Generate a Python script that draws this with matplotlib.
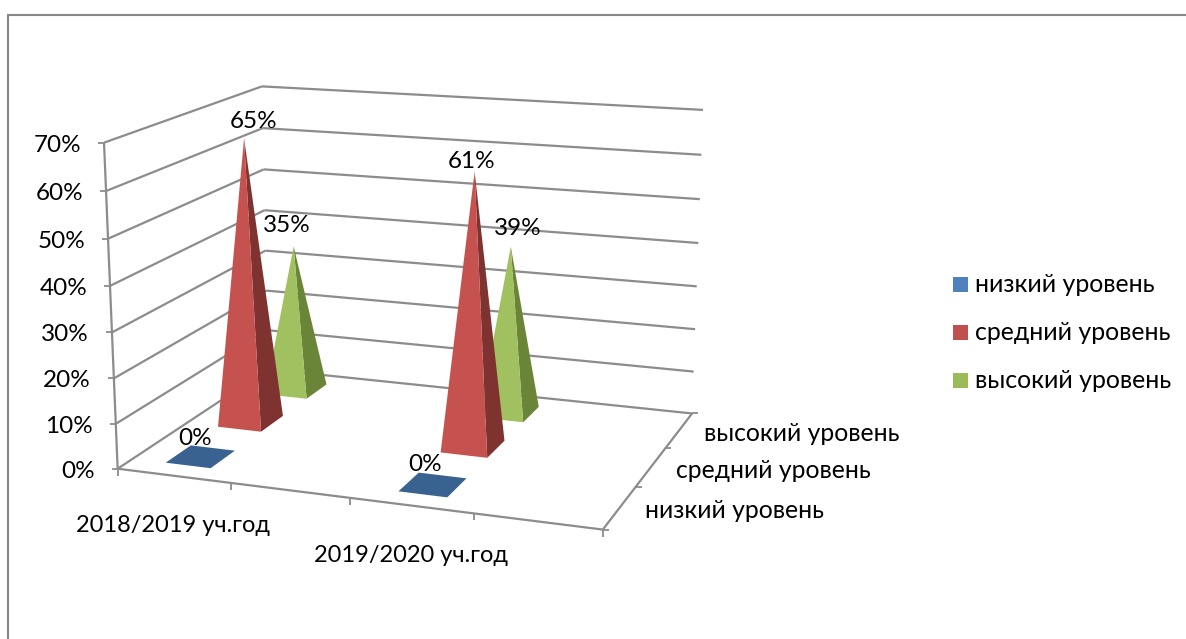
import numpy as np
import matplotlib
matplotlib.use('Agg')
import matplotlib.pyplot as plt
from matplotlib.patches import Polygon, Rectangle

plt.rcParams['font.family'] = ['Lato', 'Noto Sans', 'DejaVu Sans']

# Data
years = ['2018/2019 уч.год', '2019/2020 уч.год']
levels = ['низкий уровень', 'средний уровень', 'высокий уровень']
low = [0, 0]
mid = [65, 61]
high = [35, 39]
y_ticks = [0, 10, 20, 30, 40, 50, 60, 70]

# Where the bars sit on the floor (0..1 along the front, 0..1 in depth)
year_pos = [0.124, 0.625]
level_pos = [1 / 6, 1 / 2, 5 / 6]
half_u = 0.05
half_v = 0.078

GRID = '#8c8c8c'
FRONT = ['#4F81BD', '#C6524F', '#A1C05F']
SIDE = ['#3A6291', '#7F3330', '#6B8538']
LEGEND = ['#4F81BD', '#C0504D', '#9BBB59']
FS = 17.5

# Camera: fit a projective matrix from the box corners seen in the picture
box = [
    ((0, 0, 0), (117.5, 468)),
    ((1, 0, 0), (603, 530)),
    ((1, 1, 0), (692, 413)),
    ((0, 1, 0), (268, 370)),
    ((0, 0, 70), (104, 143)),
    ((0, 1, 70), (262, 86)),
    ((1, 1, 70), (703, 110)),
]
A = []
b = []
for (u, v, z), (px, py) in box:
    z = z / 70
    A.append([u, v, z, 1, 0, 0, 0, 0, -px * u, -px * v, -px * z])
    b.append(px)
    A.append([0, 0, 0, 0, u, v, z, 1, -py * u, -py * v, -py * z])
    b.append(py)
m = np.linalg.lstsq(np.array(A), np.array(b), rcond=None)[0]
P = np.append(m, 1).reshape(3, 4)


def project(u, v, z):
    p = P @ np.array([u, v, z / 70, 1])
    return p[0] / p[2], p[1] / p[2]


fig = plt.figure(figsize=(11.86, 6.39), dpi=100)
ax = fig.add_axes([0, 0, 1, 1])
ax.set_xlim(0, 1186)
ax.set_ylim(639, 0)
ax.axis('off')

# outer chart frame (bottom and right are cut off in the picture)
ax.plot([8, 8, 1186], [639, 15, 15], color='#878787', lw=1.5, solid_joinstyle='miter')


def line(p0, p1, lw=1.6):
    ax.plot([p0[0], p1[0]], [p0[1], p1[1]], color=GRID, lw=lw, zorder=1,
            solid_capstyle='butt')


# walls
for t in y_ticks:
    line(project(0, 0, t), project(0, 1, t))
    line(project(0, 1, t), project(1, 1, t))
    x, y = project(0, 0, t)
    line((x - 6, y), (x, y), lw=1.3)
    ax.text(x - 23, y + 2.5, f'{t}%', ha='right', va='center', fontsize=FS, color='black')
line(project(0, 0, 0), project(0, 0, 70))

# floor
line(project(0, 0, 0), project(1, 0, 0))
line(project(1, 0, 0), project(1, 1, 0))
for u in [0, 0.25, 0.5, 0.75, 1]:
    x, y = project(u, 0, 0)
    line((x, y), (x, y + 7), lw=1.3)
for v in [0, 1 / 3, 2 / 3, 1]:
    x, y = project(1, v, 0)
    line((x, y), (x + 6, y), lw=1.3)


def pyramid(u, v, value, i):
    u0, u1 = u - half_u, u + half_u
    v0, v1 = v - half_v, v + half_v
    if value == 0:
        # zero height: only the flat base shows
        corners = [project(u0, v0, 0), project(u1, v0, 0), project(u1, v1, 0), project(u0, v1, 0)]
        ax.add_patch(Polygon(corners, closed=True, fc=SIDE[i], ec='none', zorder=3))
        return
    apex = project(u, v, value)
    front = [project(u0, v0, 0), project(u1, v0, 0), apex]
    side = [project(u1, v0, 0), project(u1, v1, 0), apex]
    ax.add_patch(Polygon(side, closed=True, fc=SIDE[i], ec='none', zorder=3))
    ax.add_patch(Polygon(front, closed=True, fc=FRONT[i], ec='none', zorder=3))


series = [low, mid, high]
for i in [2, 1, 0]:
    for j in range(len(years)):
        pyramid(year_pos[j], level_pos[i], series[i][j], i)

# value labels, nudged by hand like the source chart
offsets = {(0, 0): (-5, -18), (0, 1): (-8, -20),
           (1, 0): (10, -17), (1, 1): (-3, -10),
           (2, 0): (-7, -21), (2, 1): (7, -18)}
for i in range(3):
    for j in range(2):
        x, y = project(year_pos[j], level_pos[i], series[i][j])
        dx, dy = offsets[(i, j)]
        ax.text(x + dx, y + dy, f'{series[i][j]}%', ha='center', va='center',
                fontsize=FS, color='black', zorder=5)

# category labels below the front edge
for j, name in enumerate(years):
    x, y = project(year_pos[j], 0, 0)
    ax.text(x, y + 50, name, ha='center', va='center', fontsize=17, color='black')

# depth labels
for i, name in enumerate(levels):
    x, y = project(1, level_pos[i], 0)
    ax.text(x + 25, y + 3.5, name, ha='left', va='center', fontsize=17.8, color='black')

# legend
for i, name in enumerate(levels):
    y = 284.5 + i * 48
    ax.add_patch(Rectangle((953, y - 7.5), 15, 15, fc=LEGEND[i], ec='none'))
    ax.text(975, y + 0.5, name, ha='left', va='center', fontsize=17.9, color='black')

fig.savefig('out.png', dpi=100)
